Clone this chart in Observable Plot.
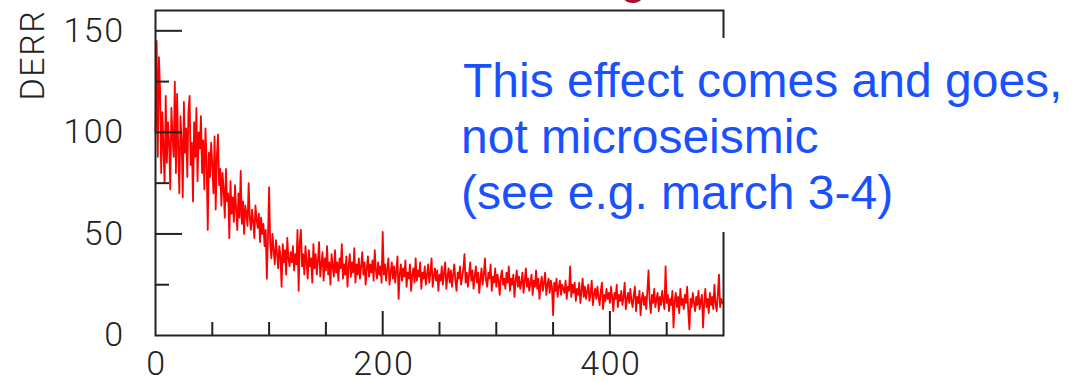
<!DOCTYPE html>
<html>
<head>
<meta charset="utf-8">
<script src="https://cdn.jsdelivr.net/npm/d3@7"></script>
<script src="https://cdn.jsdelivr.net/npm/@observablehq/plot@0.6"></script>
<style>
  html, body { margin: 0; padding: 0; background: white; }
  #wrap { position: relative; width: 1072px; height: 382px; overflow: hidden; }
  #note {
    position: absolute; left: 455px; top: 38px; width: 617px; height: 194px;
    background: white; box-sizing: border-box; padding-top: 14.7px;
    font-family: "Liberation Sans", Arial, sans-serif; font-size: 48px; line-height: 56px;
    color: rgb(25, 80, 255); white-space: nowrap;
  }
  #note div { padding-left: 6px; }
  #note div.first { padding-left: 8px; }
  #title {
    position: absolute; left: 620px; top: -51px;
    font-family: "Liberation Sans", Arial, sans-serif; font-size: 48px; line-height: 56px;
    color: #a3102f;
  }
  #chart svg text { letter-spacing: 1.5px; }
</style>
</head>
<body>
<div id="wrap">
  <div id="chart"></div>
  <div id="title">g</div>
  <div id="note">
    <div class="first">This effect comes and goes,</div>
    <div>not microseismic</div>
    <div>(see e.g. march 3-4)</div>
  </div>
</div>
<script>
// DERR values, one per sample index 0..499
const derr = [
  100,145,88,137,122,80,110,92,75,118,
  85,105,95,72,112,98,88,125,80,119,
  92,70,108,96,68,115,90,102,78,110,
  118,84,95,66,105,88,112,76,100,92,
  108,80,96,72,102,86,52,90,78,95,
  84,70,98,62,88,99,74,82,64,80,
  72,58,82,66,70,48,76,60,68,56,
  74,62,52,70,58,81,55,66,50,64,
  60,54,75,58,52,62,56,48,64,57,
  53,60,46,58,50,55,44,52,28,48,
  73,45,38,50,42,35,47,40,33,44,
  39,24,45,36,42,30,48,38,34,41,
  36,44,32,40,35,52,22,46,52,34,
  40,30,44,36,28,42,34,38,26,45,
  33,40,30,37,46,29,35,41,27,38,
  32,44,30,36,25,40,34,29,42,31,
  36,27,38,33,45,28,35,30,39,24,
  34,40,29,36,31,43,26,35,30,38,
  28,34,41,30,36,25,33,39,29,35,
  31,37,27,42,32,28,36,30,34,26,
  51,30,35,27,33,38,25,31,36,28,
  34,26,32,39,18,30,35,27,33,29,
  37,24,31,28,35,22,30,33,26,38,
  27,32,29,36,23,31,28,34,25,30,
  35,26,31,38,24,29,33,27,32,22,
  30,27,34,25,31,36,23,29,33,26,
  32,24,30,35,27,22,31,28,34,25,
  29,33,40,26,31,24,30,36,27,32,
  23,29,34,26,31,21,28,33,25,30,
  38,27,24,31,28,35,22,29,26,33,
  24,30,27,20,29,32,25,28,23,31,
  26,34,22,28,25,30,19,27,32,24,
  29,23,26,31,21,27,33,24,28,22,
  26,30,20,27,24,32,23,28,18,25,
  29,22,26,31,20,25,28,21,27,24,
  10,26,22,28,19,24,27,20,25,23,
  21,27,18,24,22,34,19,25,21,26,
  17,23,20,26,16,22,28,19,24,18,
  22,25,17,21,27,15,20,23,18,24,
  19,15,22,26,13,20,17,23,18,21,
  16,24,19,12,21,18,25,14,20,17,
  22,15,19,26,13,18,21,16,23,17,
  14,20,24,12,19,16,22,10,18,21,
  15,19,13,22,32,17,11,20,16,23,
  14,18,21,12,19,15,22,17,13,34,
  16,20,12,18,15,22,4,17,21,14,
  19,11,23,15,18,13,20,16,24,12,
  3,18,14,21,16,12,19,15,22,13,
  17,20,4,16,23,14,18,11,21,15,
  19,13,25,16,12,20,30,14,18,16
];
const xDomain = [0, 500];
const yDomain = [0, 160];
const xLabels = [0, 200, 400];
const yLabels = [0, 50, 100, 150];
const xMajor = [200, 400];
const xMinor = [50, 100, 150, 250, 300, 350, 450];
const yMajor = [50, 100, 150];
const yMinor = [25, 75, 125];
const yTitle = ["DERR"];

const W = 1072, H = 382;
const mL = 155, mR = 349, mT = 10, mB = 47;
const plotW = W - mL - mR, plotH = H - mT - mB;
const ink = "#222";

const chart = Plot.plot({
  width: W, height: H,
  marginLeft: mL, marginRight: mR, marginTop: mT, marginBottom: mB,
  x: {domain: xDomain},
  y: {domain: yDomain},
  style: {fontFamily: "Roboto, 'DejaVu Sans', sans-serif", fontWeight: 300, fontSize: "34px", color: ink, background: "white"},
  marks: [
    Plot.axisX(xLabels, {tickSize: 0, tickPadding: 15, label: null, fill: ink, dx: 1}),
    Plot.axisY(yLabels, {tickSize: 0, tickPadding: 31, label: null, fill: ink}),
    Plot.lineY(derr, {x: (d, i) => i, y: d => d, stroke: "#ff0000", strokeWidth: 1.8}),
    Plot.tickY(yMajor, {y: d => d, insetRight: plotW - 27, stroke: ink, strokeWidth: 2}),
    Plot.tickY(yMinor, {y: d => d, insetRight: plotW - 14, stroke: ink, strokeWidth: 2}),
    Plot.tickX(xMajor, {x: d => d, insetTop: plotH - 24, stroke: ink, strokeWidth: 2}),
    Plot.tickX(xMinor, {x: d => d, insetTop: plotH - 13, stroke: ink, strokeWidth: 2}),
    Plot.frame({stroke: ink, strokeWidth: 2}),
    Plot.text(yTitle, {frameAnchor: "top-left", dx: -122, dy: 44.5, rotate: -90, textAnchor: "middle", lineAnchor: "middle", fill: ink, fontSize: 34})
  ]
});
document.getElementById("chart").appendChild(chart);
</script>
</body>
</html>
